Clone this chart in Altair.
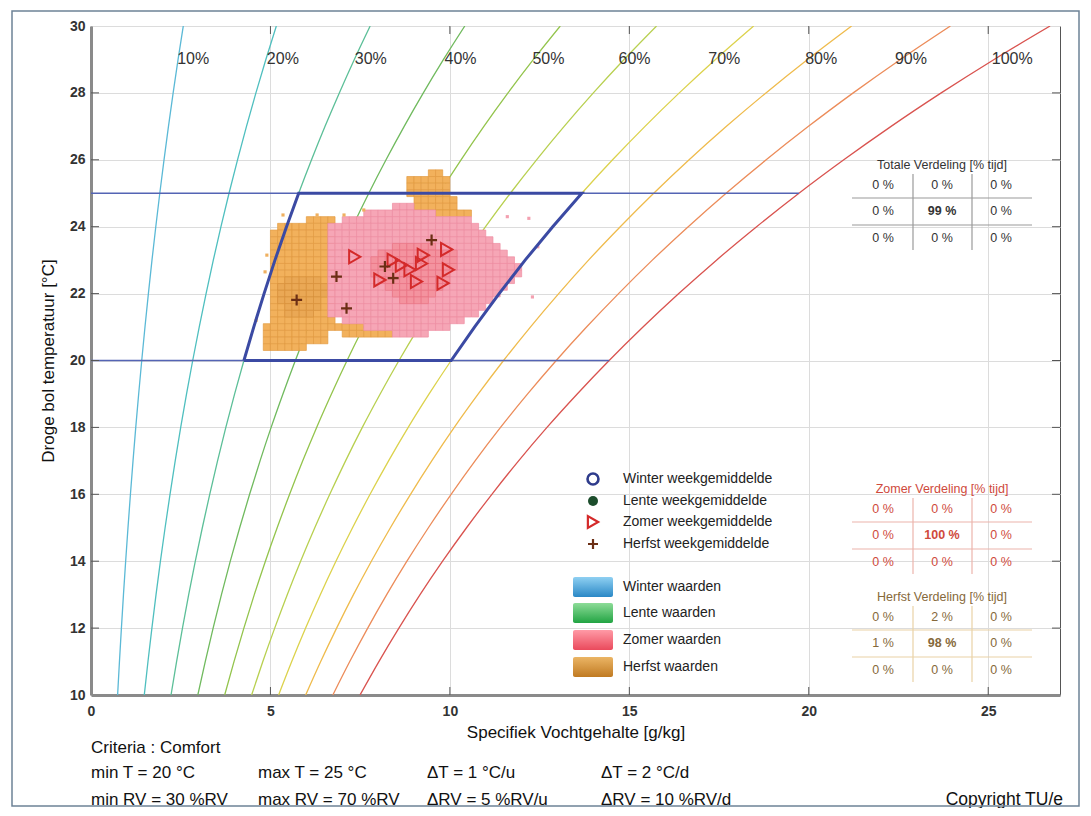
import altair as alt
import pandas as pd
import numpy as np

FONT = "Liberation Sans"

# ---------------- axes ----------------
x_ticks = [0, 5, 10, 15, 20, 25]
y_ticks = [10, 12, 14, 16, 18, 20, 22, 24, 26, 28, 30]
X_DOMAIN = [0, 27]
Y_DOMAIN = [10, 30]
x_title = "Specifiek Vochtgehalte [g/kg]"
y_title = "Droge bol temperatuur [°C]"

# ---------------- psychrometrics ----------------
temps = list(range(10, 31))
p_sat = [1.228, 1.313, 1.403, 1.498, 1.599, 1.706, 1.819, 1.938, 2.064, 2.198, 2.339,
         2.488, 2.645, 2.810, 2.985, 3.169, 3.363, 3.567, 3.782, 4.008, 4.246]  # kPa
P_ATM = 101.325
K_X = 611.0

rh_levels = [10, 20, 30, 40, 50, 60, 70, 80, 90, 100]
rh_colors = ["#5bb9d6", "#4fbfbf", "#5cbf98", "#70ba5e", "#93c44c", "#b8d050",
             "#dcd24c", "#efbb4c", "#ec8c5a", "#d9534f"]
rh_label_x = [2.4, 4.9, 7.35, 9.85, 12.3, 14.7, 17.2, 19.9, 22.4, 25.1]
rh_label_t = 29.0

# comfort criteria
t_min, t_max = 20, 25
rh_min, rh_max = 30, 70

# ---------------- weekly means ----------------
zomer_x = [7.35, 8.42, 8.65, 8.89, 9.26, 9.21, 9.91, 9.96, 9.81, 8.05, 9.07]
zomer_t = [23.10, 23.00, 22.85, 22.71, 23.15, 22.90, 23.32, 22.71, 22.31, 22.41, 22.36]
herfst_x = [9.49, 6.84, 5.73, 7.12, 8.42, 8.19]
herfst_t = [23.60, 22.51, 21.81, 21.56, 22.46, 22.81]

# ---------------- hourly value cells (row T, x from, x to) ----------------
CELL = 0.2
herfst_rows = [
    (25.6, 9.4, 9.8), (25.4, 8.8, 10.0), (25.2, 8.8, 10.0), (25.0, 8.8, 10.0),
    (24.8, 9.0, 10.2), (24.6, 9.0, 10.2), (24.4, 9.6, 10.6),
    (24.2, 6.0, 6.8), (24.0, 5.2, 6.8), (23.8, 5.0, 6.8), (23.6, 5.0, 6.8),
    (23.4, 5.0, 6.8), (23.2, 5.0, 6.8), (23.0, 5.0, 6.8), (22.8, 5.0, 6.8),
    (22.6, 5.0, 6.8), (22.4, 5.0, 6.8), (22.2, 5.0, 6.8), (22.0, 5.0, 6.8),
    (21.8, 5.0, 6.8), (21.6, 5.0, 6.8), (21.4, 5.0, 6.8), (21.2, 5.0, 6.8),
    (21.0, 4.8, 7.6), (20.8, 4.8, 6.6), (20.8, 7.0, 8.4), (20.6, 4.8, 6.6),
    (20.4, 4.8, 6.0),
]
herfst_core_rows = [
    (22.4, 5.4, 6.4), (22.2, 5.2, 6.6), (22.0, 5.2, 6.6),
    (21.8, 5.2, 6.4), (21.6, 5.4, 6.4), (21.4, 5.4, 6.2),
]
zomer_rows = [
    (24.6, 8.4, 9.0), (24.4, 7.6, 9.6), (24.2, 7.0, 10.6), (24.0, 6.6, 10.8),
    (23.8, 6.6, 11.0), (23.6, 6.6, 11.2), (23.4, 6.6, 11.4), (23.2, 6.6, 11.6),
    (23.0, 6.6, 11.8), (22.8, 6.6, 12.0), (22.6, 6.6, 12.0), (22.4, 6.6, 11.8),
    (22.2, 6.6, 11.6), (22.0, 6.6, 11.4), (21.8, 6.6, 11.2), (21.6, 6.6, 11.0),
    (21.4, 6.6, 10.8), (21.2, 7.0, 10.4), (21.0, 7.6, 10.0), (20.8, 8.4, 9.4),
]
zomer_core_rows = [
    (23.4, 8.4, 9.6), (23.2, 8.0, 10.2), (23.0, 7.8, 10.2), (22.8, 7.8, 10.2),
    (22.6, 7.8, 10.0), (22.4, 8.0, 10.0), (22.2, 8.2, 9.8), (22.0, 8.4, 9.6),
    (21.8, 8.6, 9.4),
]
sparse_herfst_x = [5.35, 6.3, 7.05, 4.9, 4.85, 4.6, 7.6]
sparse_herfst_t = [24.35, 24.35, 24.35, 23.15, 22.65, 21.2, 24.5]
sparse_zomer_x = [12.2, 12.45, 12.3, 11.6]
sparse_zomer_t = [24.25, 23.4, 21.9, 24.3]

# ---------------- distribution tables ----------------
table_titles = ["Totale Verdeling [% tijd]", "Zomer Verdeling [% tijd]", "Herfst Verdeling [% tijd]"]
table_values = [
    [[0, 0, 0], [0, 99, 0], [0, 0, 0]],
    [[0, 0, 0], [0, 100, 0], [0, 0, 0]],
    [[0, 2, 0], [1, 98, 0], [0, 0, 0]],
]
table_text_colors = ["#333333", "#cf4a3c", "#86693a"]
table_line_colors = ["#9a9a9a", "#ecb4ac", "#ead2a6"]

legend_symbol_labels = ["Winter weekgemiddelde", "Lente weekgemiddelde",
                        "Zomer weekgemiddelde", "Herfst weekgemiddelde"]
legend_swatch_labels = ["Winter waarden", "Lente waarden", "Zomer waarden", "Herfst waarden"]

criteria_title = "Criteria : Comfort"
criteria_row1 = ["min T = 20 °C", "max T = 25 °C", "ΔT = 1 °C/u", "ΔT = 2 °C/d"]
criteria_row2 = ["min RV = 30 %RV", "max RV = 70 %RV", "ΔRV = 5 %RV/u", "ΔRV = 10 %RV/d"]
copyright_text = "Copyright TU/e"

# ====================================================================
W, H = 969, 669


def moist(rh, ps):
    phi = rh / 100.0
    return K_X * phi * ps / (P_ATM - phi * ps)


XS = alt.Scale(domain=X_DOMAIN, nice=False, zero=False)
YS = alt.Scale(domain=Y_DOMAIN, nice=False, zero=False)
XAX = alt.Axis(values=x_ticks, grid=True, ticks=False, labelFlush=False,
               labelPadding=9, titlePadding=6, title=x_title)
YAX = alt.Axis(values=y_ticks, grid=True, ticks=False, labelFlush=False,
               labelPadding=6, titlePadding=12, title=y_title)


def X(f):
    return alt.X(f, scale=XS, axis=XAX, title=x_title)


def Y(f):
    return alt.Y(f, scale=YS, axis=YAX, title=y_title)


# RH curves
curve_rows = []
for rh in rh_levels:
    for i, (t, ps) in enumerate(zip(temps, p_sat)):
        curve_rows.append(dict(rh=f"{rh}%", x=moist(rh, ps), t=t, o=i))
curves_df = pd.DataFrame(curve_rows)
rh_names = [f"{r}%" for r in rh_levels]

curves = alt.Chart(curves_df).mark_line(strokeWidth=1.3, interpolate="monotone", clip=True).encode(
    x=X("x:Q"), y=Y("t:Q"),
    color=alt.Color("rh:N", scale=alt.Scale(domain=rh_names, range=rh_colors), legend=None),
    detail="rh:N",
    order="o:Q",
)

rh_lab_df = pd.DataFrame(dict(x=rh_label_x, t=[rh_label_t] * len(rh_names), lab=rh_names))
rh_labels = alt.Chart(rh_lab_df).mark_text(align="left", baseline="middle", fontSize=16,
                                           font=FONT, color="#333333").encode(
    x=X("x:Q"), y=Y("t:Q"), text="lab:N")

# horizontal lines at min/max T up to saturation
hl_df = pd.DataFrame(dict(
    x=[0, 0], x2=[moist(100, p_sat[temps.index(t_min)]), moist(100, p_sat[temps.index(t_max)])],
    t=[t_min, t_max]))
hlines = alt.Chart(hl_df).mark_rule(color="#5464b4", strokeWidth=1.3).encode(
    x=X("x:Q"), x2="x2:Q", y=Y("t:Q"))


# cells
def cells(rows):
    out = []
    for t, x0, x1 in rows:
        n = int(round((x1 - x0) / CELL))
        for i in range(n):
            xl = x0 + CELL * i
            out.append(dict(x=xl, x2=xl + CELL, t=t - CELL / 2, t2=t + CELL / 2))
    return pd.DataFrame(out)


def cell_layer(rows, fill, stroke):
    return alt.Chart(cells(rows)).mark_rect(fill=fill, stroke=stroke, strokeWidth=0.7).encode(
        x=X("x:Q"), x2="x2:Q", y=Y("t:Q"), y2="t2:Q")


herfst_cells = cell_layer(herfst_rows, "#f2b15c", "#e39b42")
herfst_core = cell_layer(herfst_core_rows, "#eaa855", "#d8923e")
zomer_cells = cell_layer(zomer_rows, "#f6a6b6", "#ee8ea2")
zomer_core = cell_layer(zomer_core_rows, "#f4939f", "#ea7484")

sp_h = alt.Chart(pd.DataFrame(dict(x=sparse_herfst_x, t=sparse_herfst_t))).mark_square(
    size=10, color="#efb060", opacity=1).encode(x=X("x:Q"), y=Y("t:Q"))
sp_z = alt.Chart(pd.DataFrame(dict(x=sparse_zomer_x, t=sparse_zomer_t))).mark_square(
    size=10, color="#f3a0b0", opacity=1).encode(x=X("x:Q"), y=Y("t:Q"))

# comfort polygon
poly = []
k = 0
for t, ps in zip(temps, p_sat):
    if t_min <= t <= t_max:
        poly.append(dict(x=moist(rh_min, ps), t=t, o=k)); k += 1
for t, ps in reversed(list(zip(temps, p_sat))):
    if t_min <= t <= t_max:
        poly.append(dict(x=moist(rh_max, ps), t=t, o=k)); k += 1
poly.append(dict(x=poly[0]["x"], t=poly[0]["t"], o=k))
polygon = alt.Chart(pd.DataFrame(poly)).mark_line(color="#3b4aa3", strokeWidth=3).encode(
    x=X("x:Q"), y=Y("t:Q"), order="o:Q")

# weekly means
tri = alt.Chart(pd.DataFrame(dict(x=zomer_x, t=zomer_t))).mark_point(
    shape="triangle-right", filled=False, color="#d42a2a", strokeWidth=2, size=170, opacity=1).encode(
    x=X("x:Q"), y=Y("t:Q"))
PLUS = "M-1,0L1,0M0,-1L0,1"
plus = alt.Chart(pd.DataFrame(dict(x=herfst_x, t=herfst_t))).mark_point(
    shape=PLUS, filled=False, color="#6b2e14", strokeWidth=2.2, size=120, opacity=1).encode(
    x=X("x:Q"), y=Y("t:Q"))

# inward ticks
TKY = 8 / H * (Y_DOMAIN[1] - Y_DOMAIN[0])
TKX = 8 / W * (X_DOMAIN[1] - X_DOMAIN[0])
inner_x = [v for v in x_ticks if v > 0]
inner_y = [v for v in y_ticks if Y_DOMAIN[0] < v < Y_DOMAIN[1]]
tick_df = pd.DataFrame(
    [dict(x=v, x2=v, t=Y_DOMAIN[0], t2=Y_DOMAIN[0] + TKY) for v in inner_x] +
    [dict(x=v, x2=v, t=Y_DOMAIN[1] - TKY, t2=Y_DOMAIN[1]) for v in inner_x] +
    [dict(x=X_DOMAIN[0], x2=X_DOMAIN[0] + TKX, t=v, t2=v) for v in inner_y] +
    [dict(x=X_DOMAIN[1] - TKX, x2=X_DOMAIN[1], t=v, t2=v) for v in inner_y])
ticks = alt.Chart(tick_df).mark_rule(color="#555555", strokeWidth=1).encode(
    x=X("x:Q"), x2="x2:Q", y=Y("t:Q"), y2="t2:Q")

# ---------------- pixel-positioned annotations (plain values, no scales) ----------------
one = pd.DataFrame({"a": [0]})


def px_text(df, **mk):
    """One text layer per row so that positions are given as pixel values."""
    out = []
    for _, r in df.iterrows():
        out.append(alt.Chart(one).mark_text(text=r["lab"], **mk).encode(
            x=alt.value(float(r["px"])), y=alt.value(float(r["py"]))))
    return out


# legend
LEG_SYM_X, LEG_LAB_X = 502, 532
leg_sym_y = [453, 475, 496, 518]
leg_sw_y = [561, 587, 614, 641]
leg_lab_df = pd.DataFrame(dict(px=[LEG_LAB_X] * 8, py=leg_sym_y + leg_sw_y,
                               lab=legend_symbol_labels + legend_swatch_labels))
leg_labels = px_text(leg_lab_df, align="left", baseline="middle", fontSize=14, font=FONT,
                     color="#222222")
leg_syms = [
    alt.Chart(one).mark_point(shape="circle", filled=False, color="#2f3c8c", strokeWidth=2.6,
                              size=120, opacity=1).encode(x=alt.value(LEG_SYM_X), y=alt.value(leg_sym_y[0])),
    alt.Chart(one).mark_point(shape="circle", filled=True, color="#1c4d2c", size=100,
                              opacity=1).encode(x=alt.value(LEG_SYM_X), y=alt.value(leg_sym_y[1])),
    alt.Chart(one).mark_point(shape="triangle-right", filled=False, color="#d42a2a", strokeWidth=2.2,
                              size=140, opacity=1).encode(x=alt.value(LEG_SYM_X), y=alt.value(leg_sym_y[2])),
    alt.Chart(one).mark_point(shape=PLUS, filled=False, color="#6b2e14", strokeWidth=2.2,
                              size=100, opacity=1).encode(x=alt.value(LEG_SYM_X), y=alt.value(leg_sym_y[3])),
]
sw_grad = [("#8fd0f2", "#2a88c6"), ("#8ddc98", "#22a443"), ("#ff9aa6", "#ea4a5c"), ("#ebb565", "#c07a22")]
leg_sw = []
for (c0, c1), yy in zip(sw_grad, leg_sw_y):
    g = alt.Gradient(gradient="linear", x1=0, x2=0, y1=0, y2=1,
                     stops=[alt.GradientStop(color=c0, offset=0), alt.GradientStop(color=c1, offset=1)])
    leg_sw.append(alt.Chart(one).mark_rect(color=g, cornerRadius=2).encode(
        x=alt.value(482), x2=alt.value(522), y=alt.value(yy - 10), y2=alt.value(yy + 10)))

# distribution tables
TAB_TITLE_Y = [139, 463, 571]
COL_X = [792, 851, 910]
ROW_DY = [20, 46, 73]
HL_DY = [33, 60]
VL_X = [822, 881]
tab_layers = []
for ti, (title, vals, tc, lc, ty) in enumerate(zip(table_titles, table_values, table_text_colors,
                                                   table_line_colors, TAB_TITLE_Y)):
    for d in HL_DY:
        tab_layers.append(alt.Chart(one).mark_rule(color=lc, strokeWidth=1.2).encode(
            x=alt.value(761), x2=alt.value(941), y=alt.value(ty + d)))
    for v in VL_X:
        tab_layers.append(alt.Chart(one).mark_rule(color=lc, strokeWidth=1.2).encode(
            x=alt.value(v), y=alt.value(ty + 9), y2=alt.value(ty + 85)))
    tab_layers += px_text(pd.DataFrame(dict(px=[851], py=[ty], lab=[title])),
                          align="center", baseline="middle", fontSize=12.5, font=FONT, color=tc)
    for r in range(3):
        for c in range(3):
            d = pd.DataFrame(dict(px=[COL_X[c]], py=[ty + ROW_DY[r]], lab=[f"{vals[r][c]} %"]))
            fw = "bold" if (r == 1 and c == 1) else "normal"
            tab_layers += px_text(d, align="center", baseline="middle", fontSize=12.5, font=FONT,
                                  color=tc, fontWeight=fw)

# criteria text
crit_cols = [0, 167, 336, 510]
crit_df = pd.DataFrame(
    [dict(px=0, py=722, lab=criteria_title)] +
    [dict(px=cx, py=747, lab=s) for cx, s in zip(crit_cols, criteria_row1)] +
    [dict(px=cx, py=774, lab=s) for cx, s in zip(crit_cols, criteria_row2)])
crit = px_text(crit_df, align="left", baseline="middle", fontSize=17, font=FONT, color="#111111")
copy = px_text(pd.DataFrame(dict(px=[972], py=[774], lab=[copyright_text])),
               align="right", baseline="middle", fontSize=17.5, font=FONT, color="#111111")

frame = alt.Chart(one).mark_rect(fillOpacity=0, stroke="#6d8296", strokeWidth=1.5).encode(
    x=alt.value(-79), x2=alt.value(988), y=alt.value(-15), y2=alt.value(780))

layers = ([curves, hlines, herfst_cells, herfst_core, zomer_cells, zomer_core, sp_h, sp_z,
           polygon, rh_labels, tri, plus, ticks] + leg_labels + leg_syms + leg_sw + tab_layers +
          crit + copy + [frame])

chart = alt.layer(*layers).properties(
    width=W, height=H,
    autosize=alt.AutoSizeParams(type="none"),
    padding={"left": 83, "top": 18, "right": 20, "bottom": 113},
    background="white",
).configure_view(stroke="#555555", strokeWidth=1).configure_axis(
    labelFont=FONT, labelFontSize=14, labelFontWeight="bold", labelColor="#333333",
    titleFont=FONT, titleFontSize=17, titleFontWeight="normal", titleColor="#111111",
    domainColor="#8a8a8a", domainWidth=3, gridColor="#dcdcdc", gridWidth=1,
).configure_text(font=FONT)

chart.save("out.html", embed_options={"renderer": "svg", "actions": False})
